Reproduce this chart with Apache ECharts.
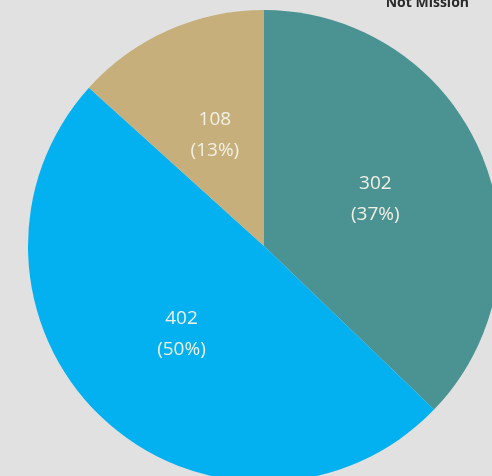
<!DOCTYPE html>
<html><head><meta charset="utf-8">
<script src="https://cdn.jsdelivr.net/npm/echarts@6/dist/echarts.min.js"></script>
<style>html,body{margin:0;padding:0;background:#e1e1e1;}#c{width:492px;height:476px;}</style>
</head><body><div id="c"></div>
<script>
const categories = ["Mission A", "Mission B", "Not Mission"];
const values = [302, 402, 108];
const colors = ["#4b9292", "#03b1f1", "#c6af7b"];
const chart = echarts.init(document.getElementById('c'));
chart.setOption({
  backgroundColor: '#e1e1e1',
  title: {
    text: 'Not Mission', right: 18, top: -9,
    textStyle: {fontFamily: 'Open Sans', fontSize: 14, fontWeight: 'bold', color: '#2a2a2a'}
  },
  series: [{
    type: 'pie',
    center: [264, 246],
    radius: [0, 236],
    startAngle: 90,
    clockwise: true,
    silent: true,
    data: categories.map((c, i) => ({name: c, value: values[i], itemStyle: {color: colors[i]}})),
    label: {
      position: 'inside',
      formatter: p => p.value + '\n(' + Math.round(p.percent) + '%)',
      color: '#f2f0e4',
      fontFamily: 'Open Sans',
      fontSize: 19,
      lineHeight: 31
    },
    labelLine: {show: false}
  }]
});
</script></body></html>
